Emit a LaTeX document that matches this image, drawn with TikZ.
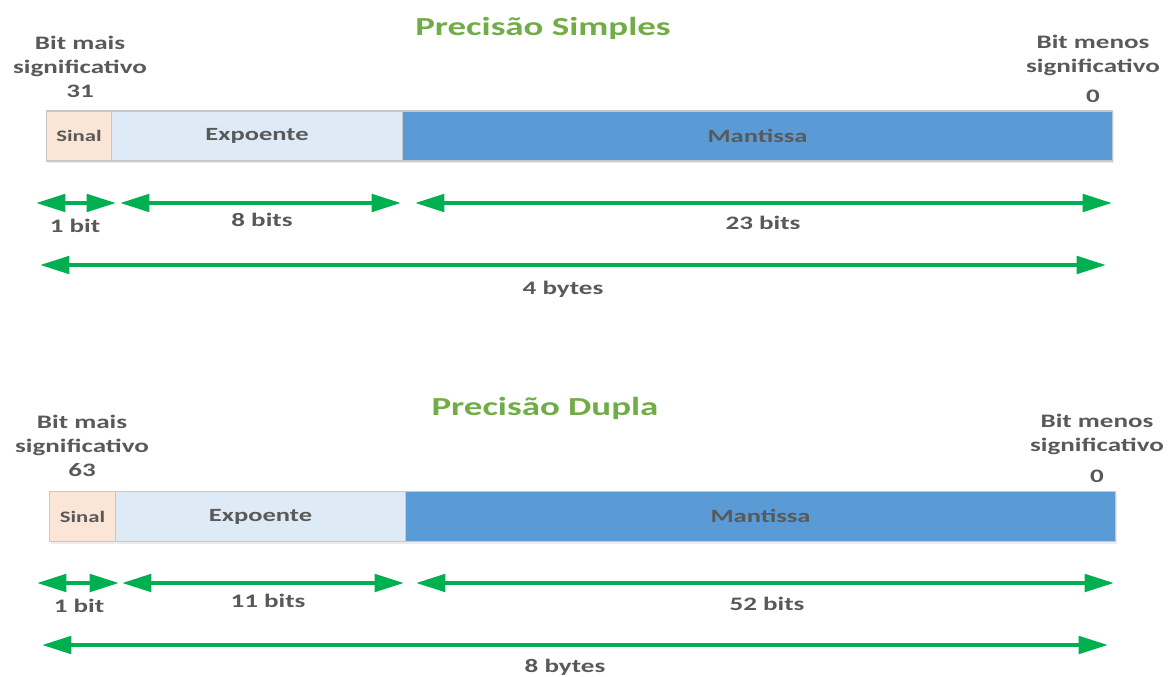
\documentclass[tikz,border=0pt]{standalone}
\usepackage{fontspec}
\setmainfont{Carlito}[FakeStretch=1.42]
\usetikzlibrary{arrows.meta,shadows}
\definecolor{txtgray}{HTML}{595959}
\definecolor{ttlgreen}{HTML}{70AD47}
\definecolor{arrgreen}{HTML}{00B050}
\definecolor{sinalfill}{HTML}{FBE5D6}
\definecolor{expfill}{HTML}{DEEBF7}
\definecolor{mantfill}{HTML}{5B9BD5}
\definecolor{bordgray}{HTML}{C8C8C8}
\tikzset{
  lbl/.style={text=txtgray, font=\bfseries\fontsize{14.3}{18}\selectfont, inner sep=0pt, align=center},
  ttl/.style={text=ttlgreen, font=\bfseries\fontsize{19.5}{22}\selectfont, inner sep=0pt},
  field/.style={draw=bordgray, line width=0.8pt, minimum height=37.5pt, inner sep=0pt, anchor=west,
    text=txtgray, font=\bfseries\fontsize{14}{18}\selectfont,
    drop shadow={shadow xshift=1pt, shadow yshift=-1.5pt, opacity=0.15, fill=gray}},
  sinal/.style={field, fill=sinalfill, font=\bfseries\fontsize{12}{15}\selectfont},
  expo/.style={field, fill=expfill},
  mant/.style={field, fill=mantfill},
  dim/.style={draw=arrgreen, line width=3pt, {Triangle[length=22pt,width=13pt]}-{Triangle[length=22pt,width=13pt]}}
}
\begin{document}
\begin{tikzpicture}[x=0.75pt, y=-0.75pt]
\useasboundingbox (0,0) rectangle (1170,677);

% ---------- Precisão Simples ----------
\node[ttl] (t1) at (543,28) {Precisão Simples};
\node[lbl] (msb1) at (80,67) {Bit mais\\significativo\\31};
\node[lbl] (lsb1) at (1093,55) {Bit menos\\significativo};
\node[lbl] (z1) at (1093,96) {0};

\node[sinal, minimum width=48.75pt] (s1) at (46,136) {Sinal};
\node[expo, minimum width=218.25pt] (e1) at (111,136) {Expoente};
\node[mant, minimum width=532.5pt] (m1) at (402,136) {Mantissa};

\coordinate (a1l) at (36,203);  \coordinate (a1r) at (116,203);
\coordinate (a2l) at (120,203); \coordinate (a2r) at (401,203);
\coordinate (a3l) at (415,203); \coordinate (a3r) at (1112,203);
\coordinate (a4l) at (40,265);  \coordinate (a4r) at (1106,265);
\draw[dim] (a1l) -- (a1r);
\draw[dim] (a2l) -- (a2r);
\draw[dim] (a3l) -- (a3r);
\draw[dim] (a4l) -- (a4r);
\node[lbl] (b1) at (75,226) {1 bit};
\node[lbl] (b2) at (262,220) {8 bits};
\node[lbl] (b3) at (763,223) {23 bits};
\node[lbl] (b4) at (563,289) {4 bytes};

% ---------- Precisão Dupla ----------
\node[ttl] (t2) at (545,408) {Precisão Dupla};
\node[lbl] (msb2) at (82,446) {Bit mais\\significativo\\63};
\node[lbl] (lsb2) at (1097,434) {Bit menos\\significativo};
\node[lbl] (z2) at (1097,476) {0};

\node[sinal, minimum width=49.5pt] (s2) at (49,516.5) {Sinal};
\node[expo, minimum width=217.5pt] (e2) at (115,516.5) {Expoente};
\node[mant, minimum width=532.5pt] (m2) at (405,516.5) {Mantissa};

\coordinate (c1l) at (37,583);  \coordinate (c1r) at (119,583);
\coordinate (c2l) at (122,583); \coordinate (c2r) at (404,583);
\coordinate (c3l) at (416,583); \coordinate (c3r) at (1114,583);
\coordinate (c4l) at (42,645);  \coordinate (c4r) at (1108,645);
\draw[dim] (c1l) -- (c1r);
\draw[dim] (c2l) -- (c2r);
\draw[dim] (c3l) -- (c3r);
\draw[dim] (c4l) -- (c4r);
\node[lbl] (d1) at (79,606) {1 bit};
\node[lbl] (d2) at (268,601) {11 bits};
\node[lbl] (d3) at (767,604) {52 bits};
\node[lbl] (d4) at (565,667) {8 bytes};
\end{tikzpicture}
\end{document}
